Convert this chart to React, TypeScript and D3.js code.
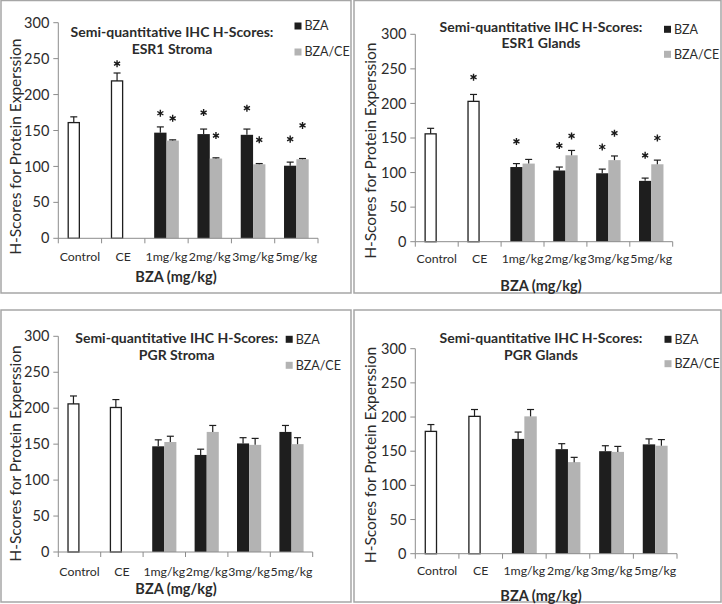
import React from "react";
import * as d3 from "d3";

const categories = ["Control", "CE", "1mg/kg", "2mg/kg", "3mg/kg", "5mg/kg"];
const controlGroups = ["Control", "CE"];
const doseGroups = ["1mg/kg", "2mg/kg", "3mg/kg", "5mg/kg"];
const seriesNames = ["BZA", "BZA/CE"];
const yTickValues = [0, 50, 100, 150, 200, 250, 300];
const titleLine1 = "Semi-quantitative IHC H-Scores:";
const yAxisTitle = "H-Scores for Protein Experssion";
const xAxisTitle = "BZA (mg/kg)";

// ESR1 Stroma
const esr1StromaControl = [161, 219];
const esr1StromaControlErr = [8, 11];
const esr1StromaControlStar = [null, 243];
const esr1StromaBZA = [147, 145, 144, 101];
const esr1StromaBZAErr = [8, 7, 8, 5];
const esr1StromaBZAStar = [174, 175, 181, 138];
const esr1StromaBZACE = [136, 111, 103, 110];
const esr1StromaBZACEErr = [1, 1, 1, 1];
const esr1StromaBZACEStar = [167, 143, 137, 157];

// ESR1 Glands
const esr1GlandsControl = [156, 203];
const esr1GlandsControlErr = [8, 10];
const esr1GlandsControlStar = [null, 238];
const esr1GlandsBZA = [108, 103, 99, 88];
const esr1GlandsBZAErr = [5, 5, 6, 4];
const esr1GlandsBZAStar = [145, 139, 137, 125];
const esr1GlandsBZACE = [113, 125, 118, 112];
const esr1GlandsBZACEErr = [6, 7, 6, 6];
const esr1GlandsBZACEStar = [null, 153, 157, 150];

// PGR Stroma
const pgrStromaControl = [206, 201];
const pgrStromaControlErr = [11, 11];
const pgrStromaBZA = [147, 135, 151, 167];
const pgrStromaBZAErr = [9, 8, 8, 9];
const pgrStromaBZACE = [153, 167, 149, 150];
const pgrStromaBZACEErr = [8, 9, 9, 9];

// PGR Glands
const pgrGlandsControl = [179, 201];
const pgrGlandsControlErr = [10, 10];
const pgrGlandsBZA = [168, 153, 150, 160];
const pgrGlandsBZAErr = [10, 8, 8, 8];
const pgrGlandsBZACE = [201, 134, 149, 158];
const pgrGlandsBZACEErr = [10, 7, 8, 9];

const none4 = [null, null, null, null];
const none2 = [null, null];

const FONT = "Lato, 'Open Sans', sans-serif";

type Layout = {
  box: [number, number, number, number];
  plot: { x0: number; x1: number; yTop: number; yBot: number };
  title: { cx: number; y1: number; y2: number };
  legend: { x: number; y1: number; y2: number };
  yTitle: { x: number; cy: number };
  xLabelY: number;
  xTitle: { cx: number; y: number };
};

const panels = [
  {
    name: "ESR1 Stroma",
    control: esr1StromaControl, controlErr: esr1StromaControlErr, controlStar: esr1StromaControlStar,
    bza: esr1StromaBZA, bzaErr: esr1StromaBZAErr, bzaStar: esr1StromaBZAStar,
    bzace: esr1StromaBZACE, bzaceErr: esr1StromaBZACEErr, bzaceStar: esr1StromaBZACEStar,
    layout: {
      box: [1, 0.5, 351, 293], plot: { x0: 58.3, x1: 318, yTop: 22.7, yBot: 238.3 },
      title: { cx: 172, y1: 31.7, y2: 49.3 }, legend: { x: 294.5, y1: 26, y2: 52 },
      yTitle: { x: 16, cy: 146.7 }, xLabelY: 256.7, xTitle: { cx: 176, y: 276.7 },
    } as Layout,
  },
  {
    name: "ESR1 Glands",
    control: esr1GlandsControl, controlErr: esr1GlandsControlErr, controlStar: esr1GlandsControlStar,
    bza: esr1GlandsBZA, bzaErr: esr1GlandsBZAErr, bzaStar: esr1GlandsBZAStar,
    bzace: esr1GlandsBZACE, bzaceErr: esr1GlandsBZACEErr, bzaceStar: esr1GlandsBZACEStar,
    layout: {
      box: [354, 0.5, 721, 293], plot: { x0: 415.3, x1: 672.7, yTop: 34.3, yBot: 241.7 },
      title: { cx: 541, y1: 26.7, y2: 43.3 }, legend: { x: 664, y1: 29.3, y2: 54.3 },
      yTitle: { x: 371, cy: 150.7 }, xLabelY: 259, xTitle: { cx: 541, y: 286 },
    } as Layout,
  },
  {
    name: "PGR Stroma",
    control: pgrStromaControl, controlErr: pgrStromaControlErr, controlStar: none2,
    bza: pgrStromaBZA, bzaErr: pgrStromaBZAErr, bzaStar: none4,
    bzace: pgrStromaBZACE, bzaceErr: pgrStromaBZACEErr, bzaceStar: none4,
    layout: {
      box: [1, 310, 351, 602], plot: { x0: 58.3, x1: 312.7, yTop: 336.3, yBot: 552 },
      title: { cx: 176.7, y1: 338, y2: 355.3 }, legend: { x: 285.7, y1: 339.3, y2: 365.3 },
      yTitle: { x: 16, cy: 453.5 }, xLabelY: 571.3, xTitle: { cx: 176, y: 589.3 },
    } as Layout,
  },
  {
    name: "PGR Glands",
    control: pgrGlandsControl, controlErr: pgrGlandsControlErr, controlStar: none2,
    bza: pgrGlandsBZA, bzaErr: pgrGlandsBZAErr, bzaStar: none4,
    bzace: pgrGlandsBZACE, bzaceErr: pgrGlandsBZACEErr, bzaceStar: none4,
    layout: {
      box: [354, 310, 721, 602], plot: { x0: 415.3, x1: 677, yTop: 348.7, yBot: 553.7 },
      title: { cx: 541, y1: 338, y2: 355.3 }, legend: { x: 664.5, y1: 339.3, y2: 363.7 },
      yTitle: { x: 371, cy: 455 }, xLabelY: 571, xTitle: { cx: 541, y: 596 },
    } as Layout,
  },
];

const BLACK = "#1e1e1e";
const GRAY = "#b3b3b3";
const AXIS = "#8c8c8c";
const TEXT = "#2b2b2b";

const starPath = d3.symbol().type(d3.symbolAsterisk).size(34)() as string;

function Panel({ p }: { p: (typeof panels)[number] }) {
  const L = p.layout;
  const x = d3.scaleBand<string>().domain(categories).range([L.plot.x0, L.plot.x1]).padding(0);
  const w = x.bandwidth();
  const inner = d3.scaleBand<string>().domain(seriesNames).range([0.215 * w, 0.785 * w]).padding(0);
  const bw = inner.bandwidth();
  const y = d3.scaleLinear().domain([0, 300]).range([L.plot.yBot, L.plot.yTop]);

  type Bar = { cat: string; slot: string; v: number; e: number; star: number | null; fill: string; stroke: string };
  const bars: Bar[] = [];
  controlGroups.forEach((c, i) =>
    bars.push({ cat: c, slot: seriesNames[0], v: p.control[i], e: p.controlErr[i], star: p.controlStar[i] as number | null, fill: "#ffffff", stroke: BLACK })
  );
  doseGroups.forEach((c, i) => {
    bars.push({ cat: c, slot: seriesNames[0], v: p.bza[i], e: p.bzaErr[i], star: p.bzaStar[i] as number | null, fill: BLACK, stroke: "none" });
    bars.push({ cat: c, slot: seriesNames[1], v: p.bzace[i], e: p.bzaceErr[i], star: p.bzaceStar[i] as number | null, fill: GRAY, stroke: "none" });
  });

  const [bx0, by0, bx1, by1] = L.box;
  const boundaries = categories.map((c) => x(c) as number).concat([L.plot.x1]);

  return (
    <g>
      <rect x={bx0} y={by0} width={bx1 - bx0} height={by1 - by0} fill="#fff" stroke="#a6a6a6" strokeWidth={1.5} />
      {/* y axis */}
      <line x1={L.plot.x0} x2={L.plot.x0} y1={y(300)} y2={y(0)} stroke={AXIS} strokeWidth={1} />
      {yTickValues.map((t) => (
        <g key={t}>
          <line x1={L.plot.x0 - 5} x2={L.plot.x0} y1={y(t)} y2={y(t)} stroke={AXIS} strokeWidth={1} />
          <text x={L.plot.x0 - 9} y={y(t)} dy="0.35em" textAnchor="end" fontSize={14.5} fill={TEXT} fontFamily={FONT}>
            {t}
          </text>
        </g>
      ))}
      {/* bars */}
      {bars.map((b, i) => {
        const bx = (x(b.cat) as number) + (inner(b.slot) as number);
        const cx = bx + bw / 2;
        const top = y(b.v);
        const et = y(b.v + b.e);
        return (
          <g key={i}>
            <rect
              x={bx + (b.stroke !== "none" ? 0.6 : 0)}
              y={top}
              width={bw - (b.stroke !== "none" ? 1.2 : 0)}
              height={y(0) - top}
              fill={b.fill}
              stroke={b.stroke}
              strokeWidth={1.3}
            />
            <line x1={cx} x2={cx} y1={top} y2={et} stroke={BLACK} strokeWidth={1.2} />
            <line x1={cx - 3.5} x2={cx + 3.5} y1={et} y2={et} stroke={BLACK} strokeWidth={1.2} />
            {b.star != null && (
              <path d={starPath} transform={`translate(${cx},${y(b.star)})`} fill="none" stroke="#1a1a1a" strokeWidth={1.4} />
            )}
          </g>
        );
      })}
      {/* x axis */}
      <line x1={L.plot.x0} x2={L.plot.x1} y1={y(0)} y2={y(0)} stroke={AXIS} strokeWidth={1} />
      {boundaries.map((bx, i) => (
        <line key={i} x1={bx} x2={bx} y1={y(0)} y2={y(0) + 5} stroke={AXIS} strokeWidth={1} />
      ))}
      {categories.map((c) => (
        <text key={c} x={(x(c) as number) + w / 2} y={L.xLabelY} dy="0.35em" textAnchor="middle" fontSize={12.3} fill={TEXT} fontFamily={FONT}>
          {c}
        </text>
      ))}
      {/* titles */}
      <text x={L.title.cx} y={L.title.y1} dy="0.35em" textAnchor="middle" fontSize={14} fontWeight="bold" fill={TEXT} fontFamily={FONT}>
        {titleLine1}
      </text>
      <text x={L.title.cx} y={L.title.y2} dy="0.35em" textAnchor="middle" fontSize={14} fontWeight="bold" fill={TEXT} fontFamily={FONT}>
        {p.name}
      </text>
      <text x={L.xTitle.cx} y={L.xTitle.y} dy="0.35em" textAnchor="middle" fontSize={14.5} fontWeight="bold" fill={TEXT} fontFamily={FONT}>
        {xAxisTitle}
      </text>
      <text
        transform={`translate(${L.yTitle.x},${L.yTitle.cy}) rotate(-90)`}
        dy="0.35em"
        textAnchor="middle"
        fontSize={15.5}
        fill={TEXT}
        fontFamily={FONT}
      >
        {yAxisTitle}
      </text>
      {/* legend */}
      {seriesNames.map((s, i) => {
        const ly = i === 0 ? L.legend.y1 : L.legend.y2;
        return (
          <g key={s}>
            <rect x={L.legend.x} y={ly - 3.5} width={7} height={7} fill={i === 0 ? BLACK : GRAY} />
            <text x={L.legend.x + 10} y={ly} dy="0.35em" fontSize={12.5} fill={TEXT} fontFamily={FONT}>
              {s}
            </text>
          </g>
        );
      })}
    </g>
  );
}

export default function App() {
  return (
    <svg
      width={722}
      height={604}
      viewBox="0 0 722 604"
      style={{ position: "absolute", left: 0, top: 0, background: "#fff" }}
    >
      <rect x={0} y={0} width={722} height={604} fill="#fff" />
      {panels.map((p) => (
        <Panel key={p.name} p={p} />
      ))}
    </svg>
  );
}
